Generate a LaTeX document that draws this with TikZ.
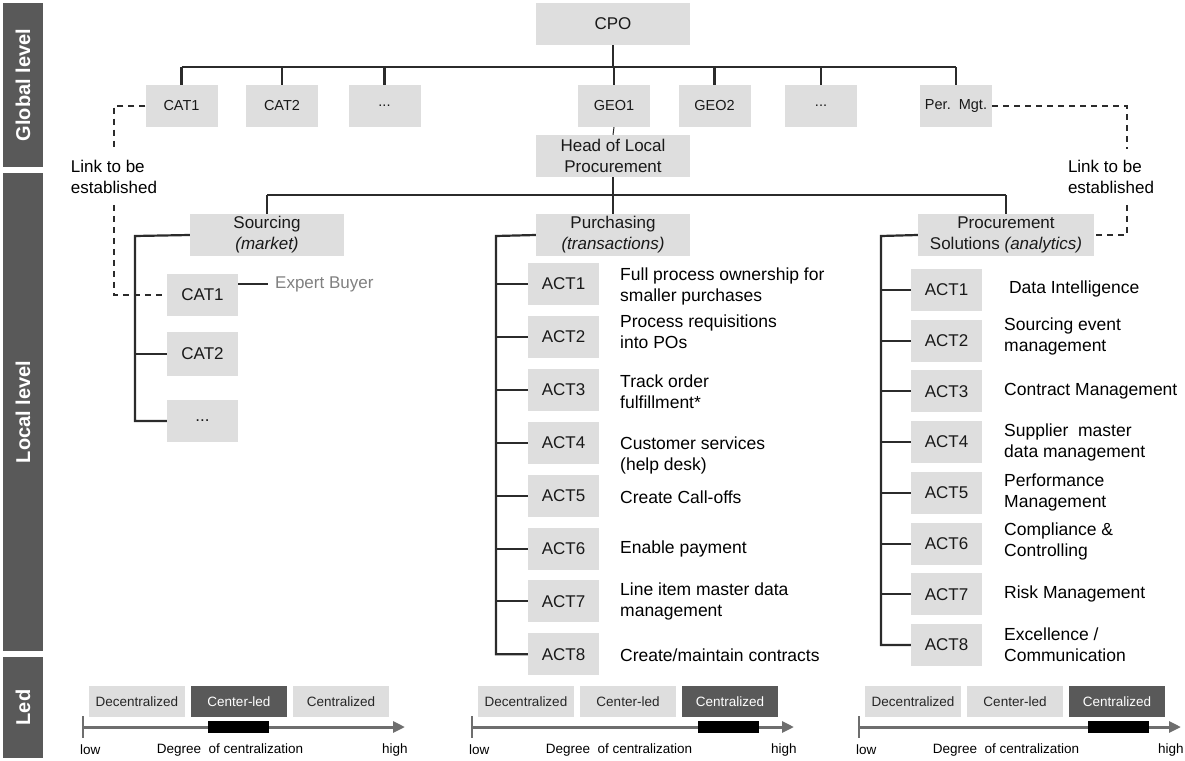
\documentclass[tikz,border=0pt]{standalone}
\usepackage{fontspec}
\setmainfont{Liberation Sans}
\usetikzlibrary{arrows.meta}

\definecolor{boxgray}{HTML}{DEDEDE}
\definecolor{bandgray}{HTML}{595959}
\definecolor{linegray}{HTML}{2B2B2B}
\definecolor{axisgray}{HTML}{6E6E6E}
\definecolor{expertgray}{HTML}{808080}

\tikzset{
  box/.style={fill=boxgray, inner sep=0pt, minimum height=42pt, align=center, text=black!90, font=\fontsize{17}{21}\selectfont},
  catbox/.style={box, minimum width=72pt, font=\fontsize{14.5}{17}\selectfont},
  actbox/.style={box, minimum width=71pt},
  band/.style={fill=bandgray, text=white, inner sep=0pt, minimum height=40pt, rotate=90, font=\bfseries\fontsize{20}{24}\selectfont},
  trunk/.style={draw=linegray, line width=2.2pt},
  branch/.style={draw=linegray, line width=2pt},
  link/.style={draw=linegray, line width=1.4pt, dash pattern=on 6pt off 5pt},
  linktext/.style={align=left, inner xsep=0pt, inner ysep=11pt, font=\fontsize{17}{21}\selectfont},
  desc/.style={anchor=west, align=left, inner sep=0pt, font=\fontsize{17.5}{21}\selectfont},
  scalebox/.style={fill=boxgray, inner sep=0pt, minimum width=96pt, minimum height=31pt, text=black!85, font=\fontsize{13.5}{16}\selectfont},
  scalelit/.style={scalebox, fill=bandgray, text=white},
  scalelabel/.style={inner sep=0pt, font=\fontsize{13.5}{16}\selectfont},
  axis/.style={draw=axisgray, line width=3pt, -{Triangle[length=12pt,width=11pt]}},
}

\begin{document}
\begin{tikzpicture}[x=1pt,y=-1pt]
\useasboundingbox (0,0) rectangle (1185,760);
% Level bands
\node[band, minimum width=164pt] (global) at (23,85) {Global level};
\node[band, minimum width=478pt] (local) at (23,412) {Local level};
\node[band, minimum width=101pt] (led) at (23,707.5) {Led};
% Global level
\node[box, minimum width=154pt] (cpo) at (613,24) {CPO};
\node[catbox] (cat1) at (181.5,106) {CAT1};
\node[catbox] (cat2) at (282,106) {CAT2};
\node[catbox] (gdots) at (384.5,106) {...};
\node[catbox] (geo1) at (614,106) {GEO1};
\node[catbox] (geo2) at (714.5,106) {GEO2};
\node[catbox] (gdotsb) at (821,106) {...};
\node[catbox] (permgt) at (956,106) {Per.\ \ Mgt.};
\coordinate (bus1) at (613,67);
\draw[trunk] (cpo.south) -- (bus1);
\draw[trunk] (cat1.north |- bus1) -- (permgt.north |- bus1);
\foreach \n in {cat1,cat2,gdots,geo1,geo2,gdotsb,permgt}
  \draw[trunk] (\n.north |- bus1) -- (\n.north);
% Local level
\node[box, minimum width=154pt] (head) at (613,156) {Head of Local\\Procurement};
\draw[branch, line width=1pt] (geo1.south) -- (head.north);
\node[box, minimum width=154pt] (src) at (267,235) {Sourcing\\\textit{(market)}};
\node[box, minimum width=154pt] (pur) at (613,235) {Purchasing\\\textit{(transactions)}};
\node[box, minimum width=176pt] (sol) at (1006,235) {Procurement\\Solutions \textit{(analytics)}};
\coordinate (bus2) at (613,195);
\draw[trunk] (head.south) -- (bus2);
\draw[trunk] (src.north |- bus2) -- (sol.north |- bus2);
\foreach \n in {src,pur,sol}
  \draw[trunk] (\n.north |- bus2) -- (\n.north);
% Sourcing
\node[actbox] (lcat1) at (202.5,295) {CAT1};
\node[actbox, minimum height=44pt] (lcat2) at (202.5,354) {CAT2};
\node[actbox] (lcdots) at (202.5,421) {...};
\coordinate (sspine) at (135,236);
\draw[trunk] (src.west) -- (sspine) |- (lcdots.west);
\draw[branch] (sspine |- lcat2.west) -- (lcat2.west);
\node[anchor=west, inner xsep=7pt, inner ysep=0pt, text=expertgray, font=\fontsize{17}{21}\selectfont] (expert) at (268,284) {Expert Buyer};
\draw[branch, line width=1.4pt] (expert.west -| lcat1.east) -- (expert.west);
% Links to be established
\node[linktext] (linkl) at (114,177) {Link to be\\established};
\draw[link] (cat1.west) -| (linkl.north);
\draw[link] (linkl.south) |- (lcat1.west);
\node[linktext] (linkr) at (1111,177) {Link to be\\established};
\draw[link] (permgt.east) -| ([xshift=16pt]linkr.north);
\draw[link] ([xshift=16pt]linkr.south) |- (sol.east);
% Purchasing
\coordinate (pspine) at (496,236);
\foreach \i/\txt/\dy in {1/{Full process ownership for\\smaller purchases}/2, 2/{Process requisitions\\into POs}/-5, 3/{Track order\\fulfillment*}/2, 4/{Customer services\\(help desk)}/13, 5/{Create Call-offs}/2, 6/{Enable payment}/0, 7/{Line item master data\\management}/0, 8/{Create/maintain contracts}/1}{
  \node[actbox] (pa\i) at (563.5,{284+52.9*(\i-1)}) {ACT\i};
  \node[desc] (pt\i) at (620,{284+52.9*(\i-1)+(\dy)}) {\txt};
}
\draw[trunk] (pur.west) -- (pspine) |- (pa8.west);
\foreach \i in {1,...,7}
  \draw[branch] (pspine |- pa\i.west) -- (pa\i.west);
% Procurement solutions
\coordinate (tspine) at (881,236);
\foreach \i/\txt/\dy in {1/{\ Data Intelligence}/-1, 2/{Sourcing event\\management}/-4, 3/{Contract Management}/0, 4/{Supplier\ \ master\\data management}/0, 5/{Performance\\Management}/0, 6/{Compliance \&\\Controlling}/-2, 7/{Risk Management}/0, 8/{Excellence /\\Communication}/0}{
  \node[actbox] (sa\i) at (946.5,{290+50.7*(\i-1)}) {ACT\i};
  \node[desc] (st\i) at (1004,{290+50.7*(\i-1)+(\dy)}) {\txt};
}
\draw[trunk] (sol.west) -- (tspine) |- (sa8.west);
\foreach \i in {1,...,7}
  \draw[branch] (tspine |- sa\i.west) -- (sa\i.west);
% Degree of centralization scales
\foreach \sx/\sa/\sb/\sc/\bx [count=\k] in {83/scalebox/scalelit/scalebox/155, 472/scalebox/scalebox/scalelit/256, 859/scalebox/scalebox/scalelit/259}{
  \node[\sa] (dec\k) at ({\sx+54},701.5) {Decentralized};
  \node[\sb] (cled\k) at ({\sx+156},701.5) {Center-led};
  \node[\sc] (cent\k) at ({\sx+258},701.5) {Centralized};
  \coordinate (low\k) at (\sx,727);
  \draw[axis] (low\k) -- ++(322,0);
  \draw[draw=axisgray, line width=2.5pt] ([yshift=11pt]low\k) -- ([yshift=-11pt]low\k);
  \node[fill=black, inner sep=0pt, minimum width=61pt, minimum height=12pt] (bar\k) at ({\sx+\bx},727) {};
  \node[scalelabel, anchor=west] (lowt\k) at ({\sx-3},750) {low};
  \node[scalelabel] (deg\k) at ({\sx+147},750) {Degree\ \ of centralization};
  \node[scalelabel, anchor=west] (high\k) at ({\sx+299},750) {high};
}
\end{tikzpicture}
\end{document}
